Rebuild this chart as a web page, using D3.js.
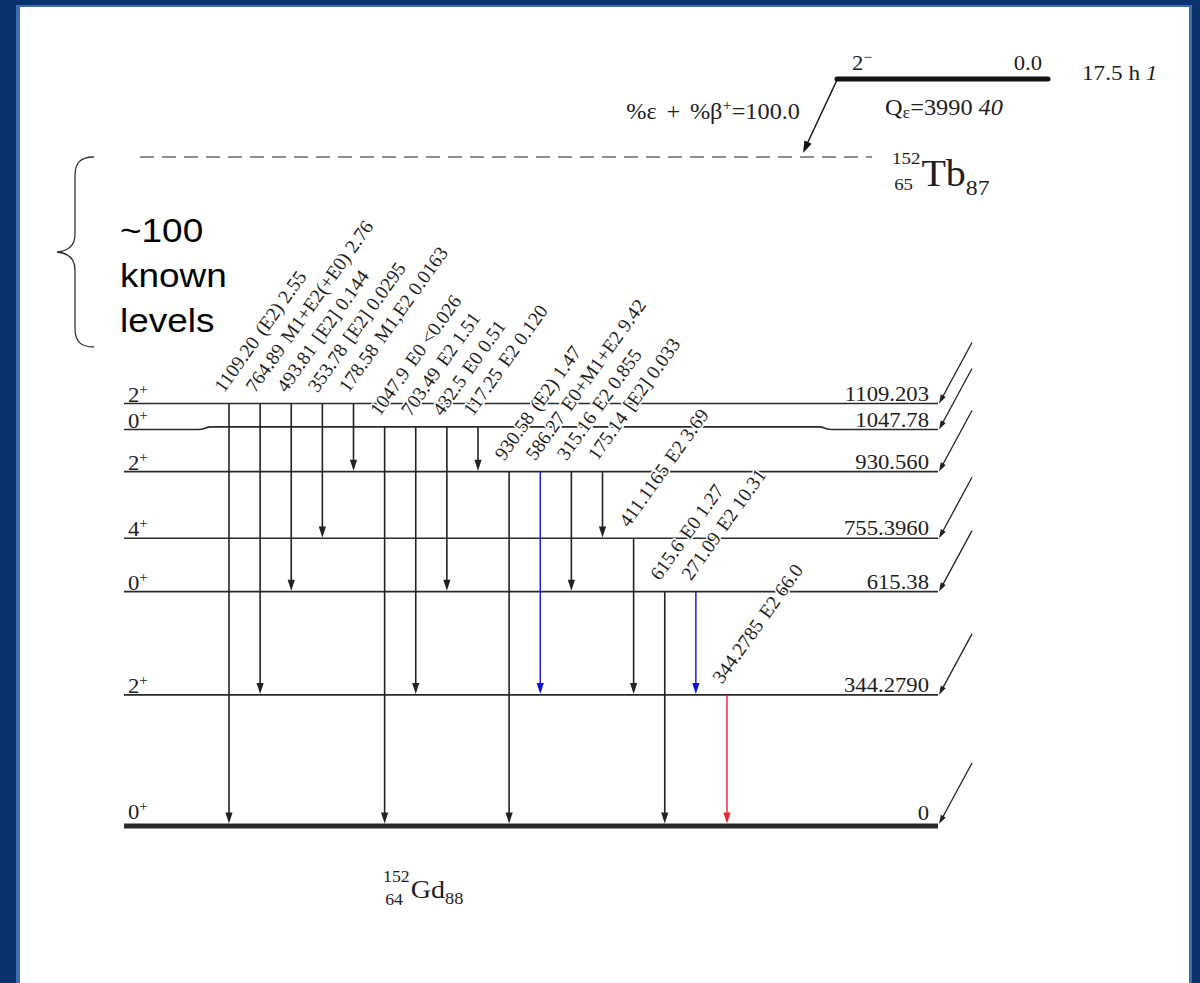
<!DOCTYPE html>
<html>
<head>
<meta charset="utf-8">
<script src="https://cdn.jsdelivr.net/npm/d3@7"></script>
<style>
  body { margin: 0; background: #fff; }
  svg { display: block; }
  .serif { font-family: "Liberation Serif", "Times New Roman", serif; fill: #1e1e1e; }
  .sans { font-family: "Liberation Sans", Arial, sans-serif; fill: #000; }
</style>
</head>
<body>
<svg id="chart" width="1200" height="983"></svg>
<script>
// 152Gd levels fed in the 152Tb decay (keV)
const levelEnergies = [0, 344.2790, 615.38, 755.3960, 930.560, 1047.78, 1109.203];
const levelLabels = ["0", "344.2790", "615.38", "755.3960", "930.560", "1047.78", "1109.203"];
const levelSpins = ["0", "2", "0", "4", "2", "0", "2"];
const levelParities = ["+", "+", "+", "+", "+", "+", "+"];

// gamma transitions, drawn left to right
const gammaFrom = [1109.203, 1109.203, 1109.203, 1109.203, 1109.203,
                   1047.78, 1047.78, 1047.78, 1047.78,
                   930.560, 930.560, 930.560, 930.560,
                   755.3960, 615.38, 615.38, 344.2790];
const gammaTo = [0, 344.2790, 615.38, 755.3960, 930.560,
                 0, 344.2790, 615.38, 930.560,
                 0, 344.2790, 615.38, 755.3960,
                 344.2790, 0, 344.2790, 0];
const gammaEnergies = ["1109.20", "764.89", "493.81", "353.78", "178.58",
                       "1047.9", "703.49", "432.5", "117.25",
                       "930.58", "586.27", "315.16", "175.14",
                       "411.1165", "615.6", "271.09", "344.2785"];
const gammaMults = ["(E2)", "M1+E2(+E0)", "[E2]", "[E2]", "M1,E2",
                    "E0", "E2", "E0", "E2",
                    "(E2)", "E0+M1+E2", "E2", "[E2]",
                    "E2", "E0", "E2", "E2"];
const gammaIntensities = ["2.55", "2.76", "0.144", "0.0295", "0.0163",
                          "<0.026", "1.51", "0.51", "0.120",
                          "1.47", "9.42", "0.855", "0.033",
                          "3.69", "1.27", "10.31", "66.0"];
const gammaColors = ["#222", "#222", "#222", "#222", "#222",
                     "#222", "#222", "#222", "#222",
                     "#222", "#1010d0", "#222", "#222",
                     "#222", "#222", "#1010d0", "#e8232e"];

// parent state
const parentSpin = "2";
const parentParity = "\u2212";
const parentEnergy = "0.0";
const parentHalfLife = "17.5 h ";
const parentHalfLifeUnc = "1";
const qValue = "3990 ";
const qUnc = "40";
const branching = "100.0";

const svg = d3.select("#chart");

// frame
svg.append("rect").attr("x", 0).attr("y", 0).attr("width", 1200).attr("height", 983).attr("fill", "#0a326c");
svg.append("rect").attr("x", 16).attr("y", 5).attr("width", 1176).attr("height", 978).attr("fill", "#3d6db0");
svg.append("rect").attr("x", 20).attr("y", 7).attr("width", 1169).attr("height", 976).attr("fill", "#fff");

// scales
const y = d3.scaleLinear().domain([0, 1109.203]).range([826, 403.5]);
const x = d3.scalePoint().domain(d3.range(gammaEnergies.length)).range([229, 727]);
const levelX0 = 124, levelX1 = 938;
const stretch = 1.08; // the scheme is drawn a little wide

function arrowHead(g, tipX, tipY, angle, color, len, half) {
    // angle: direction the arrow points to, degrees (90 = down)
    g.append("path")
        .attr("d", `M0,0 L${-len},${-half} L${-len},${half} Z`)
        .attr("transform", `translate(${tipX},${tipY}) rotate(${angle})`)
        .attr("fill", color);
}

// horizontal text, widened like the original
function label(parent, xx, yy, size, anchor) {
    return parent.append("text").attr("class", "serif")
        .attr("transform", `translate(${xx},${yy}) scale(${stretch},1)`)
        .attr("text-anchor", anchor || "start")
        .attr("font-size", size);
}

// level positions, spread the end labels if two levels are too close
const levels = levelEnergies.map((e, i) => ({
    e: e, label: levelLabels[i], spin: levelSpins[i], parity: levelParities[i], y: y(e)
}));
levels.forEach((d, i) => {
    d.yEnd = d.y;
    const above = levels[i + 1];
    if (above && d.y - y(above.e) < 26) d.yEnd = y(above.e) + 26;
});

const gLevels = svg.append("g");
levels.forEach(d => {
    let path;
    if (d.yEnd !== d.y) {
        path = `M${levelX0},${d.yEnd} H${levelX0 + 74} C${levelX0 + 82},${d.yEnd} ${levelX0 + 80},${d.y} ${levelX0 + 88},${d.y}` +
               ` H${levelX1 - 120} C${levelX1 - 112},${d.y} ${levelX1 - 114},${d.yEnd} ${levelX1 - 106},${d.yEnd} H${levelX1}`;
    } else {
        path = `M${levelX0},${d.y} H${levelX1}`;
    }
    gLevels.append("path")
        .attr("d", path)
        .attr("fill", "none")
        .attr("stroke", "#2a2a2a")
        .attr("stroke-width", d.e === 0 ? 5 : 1.7);

    // feeding line from the parent decay
    const fx0 = levelX1 + 1, fy0 = d.yEnd - (d.e === 0 ? 2 : 0);
    const fx1 = fx0 + 33, fy1 = fy0 - 61;
    gLevels.append("line")
        .attr("x1", fx0 + 3).attr("y1", fy0 - 5.5)
        .attr("x2", fx1).attr("y2", fy1)
        .attr("stroke", "#222").attr("stroke-width", 1.3);
    arrowHead(gLevels, fx0, fy0, Math.atan2(fy0 - fy1, fx0 - fx1) * 180 / Math.PI, "#222", 9, 2.8);

    // spin and energy labels
    const sp = label(gLevels, 128, d.e === 0 ? d.yEnd - 7 : d.yEnd - 2, 21);
    sp.append("tspan").text(d.spin);
    sp.append("tspan").attr("font-size", 14).attr("dy", -8).text(d.parity);

    label(gLevels, 929, d.e === 0 ? d.yEnd - 6 : d.yEnd - 3, 21, "end")
        .text(d.label);
});

// gamma transitions
const gGamma = svg.append("g");
gammaEnergies.forEach((en, i) => {
    const gx = x(i);
    const yTop = y(gammaFrom[i]);
    const yTip = y(gammaTo[i]) - (gammaTo[i] === 0 ? 2.5 : 0.8);
    gGamma.append("line")
        .attr("x1", gx).attr("y1", yTop)
        .attr("x2", gx).attr("y2", yTip - 8)
        .attr("stroke", gammaColors[i])
        .attr("stroke-width", gammaColors[i] === "#222" ? 1.6 : 1.4);
    arrowHead(gGamma, gx, yTip, 90, gammaColors[i], 11, 3.6);
});

// gamma labels, with a white halo that knocks out lines behind them
const gLab = svg.append("g");
gammaEnergies.forEach((en, i) => {
    const t = gLab.append("text").attr("class", "serif")
        .attr("transform", `translate(${x(i) - 5},${y(gammaFrom[i]) - 10}) rotate(-54.5)`)
        .attr("font-size", 19.5)
        .attr("stroke", "#fff").attr("stroke-width", 3.2)
        .attr("paint-order", "stroke")
        .attr("stroke-linejoin", "round");
    t.append("tspan").text(en);
    t.append("tspan").attr("dx", 7).text(gammaMults[i]);
    t.append("tspan").attr("dx", 5).text(gammaIntensities[i]);
});

// parent level
const gParent = svg.append("g");
gParent.append("line")
    .attr("x1", 837).attr("y1", 79).attr("x2", 1048).attr("y2", 79)
    .attr("stroke", "#111").attr("stroke-width", 5).attr("stroke-linecap", "round");
const ps = label(gParent, 852, 70, 21);
ps.append("tspan").text(parentSpin);
ps.append("tspan").attr("font-size", 15).attr("dy", -8).text(parentParity);
label(gParent, 1042, 70, 21, "end").text(parentEnergy);
const hl = label(gParent, 1082, 80, 21.5);
hl.append("tspan").text(parentHalfLife);
hl.append("tspan").attr("font-style", "italic").text(parentHalfLifeUnc);

const qt = label(gParent, 885, 115, 22.5);
qt.append("tspan").text("Q");
qt.append("tspan").attr("font-size", 17).attr("dy", 3).text("\u03b5");
qt.append("tspan").attr("dy", -3).text("=" + qValue);
qt.append("tspan").attr("font-style", "italic").text(qUnc);

const br = label(gParent, 800, 119, 22.5, "end");
br.append("tspan").text("%\u03b5");
br.append("tspan").attr("dx", 9).text("+");
br.append("tspan").attr("dx", 9).text("%\u03b2");
br.append("tspan").attr("font-size", 15).attr("dy", -9).text("+");
br.append("tspan").attr("dy", 9).text("=" + branching);

// decay arrow to the daughter
gParent.append("line")
    .attr("x1", 837).attr("y1", 80).attr("x2", 807).attr("y2", 144)
    .attr("stroke", "#111").attr("stroke-width", 1.4);
arrowHead(gParent, 803, 153, Math.atan2(153 - 80, 803 - 837) * 180 / Math.PI, "#111", 12, 4);

// dashed line at the parent decay energy
svg.append("line")
    .attr("x1", 140).attr("y1", 157).attr("x2", 872).attr("y2", 157)
    .attr("stroke", "#6a6a6a").attr("stroke-width", 1.5)
    .attr("stroke-dasharray", "14 8");

// nuclide labels: mass and Z stacked on the left, N as subscript
function nuclide(xx, yy, mass, z, sym, n, size, small, sub, zDrop) {
    const g = svg.append("g").attr("transform", `translate(${xx},${yy}) scale(${stretch},1)`);
    g.append("text").attr("class", "serif").attr("x", 0).attr("y", -size * 0.6).attr("font-size", small).text(mass);
    g.append("text").attr("class", "serif").attr("x", 2).attr("y", zDrop).attr("font-size", small).text(z);
    const w = small * 1.5 + 1;
    const t = g.append("text").attr("class", "serif").attr("x", w).attr("y", 0).attr("font-size", size);
    t.append("tspan").text(sym);
    t.append("tspan").attr("font-size", sub).attr("dy", size * 0.24).text(n);
}
nuclide(892, 186, "152", "65", "Tb", "87", 37, 17.5, 22, 4);
nuclide(383, 898, "152", "64", "Gd", "88", 26, 16.5, 17, 7);

// brace and note about the unobserved levels
svg.append("path")
    .attr("d", "M94,157 C80,157 75,163 75,176 L75,234 C75,246 68,251 57,252 C68,253 75,258 75,270 L75,328 C75,341 80,347 94,347")
    .attr("fill", "none").attr("stroke", "#333").attr("stroke-width", 1.3);
const note = ["~100", "known", "levels"];
note.forEach((s, i) => {
    svg.append("text").attr("class", "sans")
        .attr("transform", `translate(120,${242 + i * 45}) scale(1.12,1)`)
        .attr("font-size", 33)
        .text(s);
});
</script>
</body>
</html>
